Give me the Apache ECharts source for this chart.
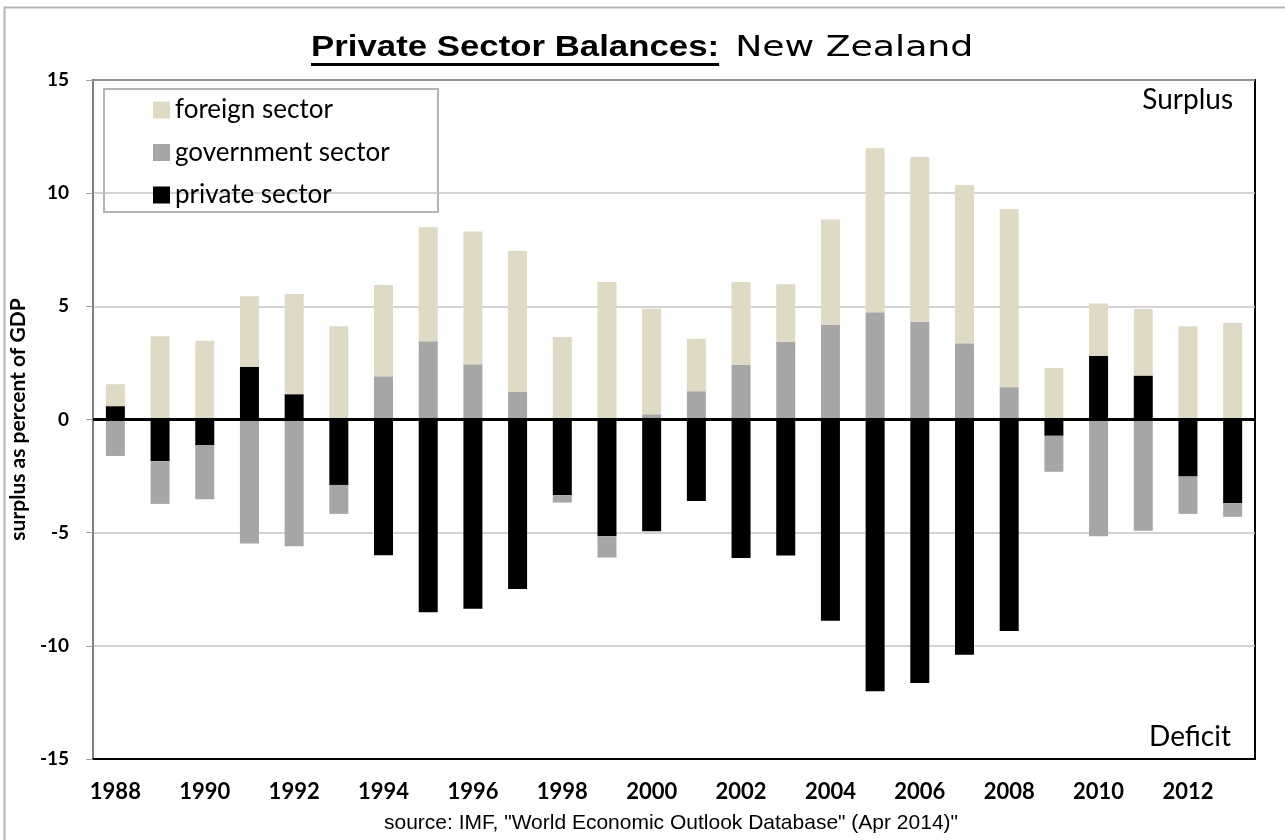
<!DOCTYPE html>
<html>
<head>
<meta charset="utf-8">
<script src="https://cdn.jsdelivr.net/npm/echarts@6/dist/echarts.min.js"></script>
<style>
  html, body { margin: 0; padding: 0; background: #fff; }
  #chart { width: 1285px; height: 840px; }
</style>
</head>
<body>
<div id="chart"></div>
<script>
// Sectoral balances for New Zealand, % of GDP
const years = ['1988','1989','1990','1991','1992','1993','1994','1995','1996','1997','1998','1999','2000',
               '2001','2002','2003','2004','2005','2006','2007','2008','2009','2010','2011','2012','2013'];
const privateSector = [0.59, -1.84, -1.14, 2.33, 1.12, -2.89, -6.00, -8.52, -8.36, -7.49, -3.35, -5.16, -4.94,
                       -3.60, -6.12, -6.01, -8.89, -12.01, -11.64, -10.39, -9.34, -0.72, 2.81, 1.94, -2.52, -3.70];
const governmentSector = [-1.61, -1.89, -2.38, -5.48, -5.60, -1.28, 1.91, 3.46, 2.44, 1.22, -0.32, -0.94, 0.23,
                          1.25, 2.41, 3.43, 4.17, 4.74, 4.32, 3.37, 1.43, -1.59, -5.16, -4.92, -1.65, -0.60];
const foreignSector = [0.97, 3.68, 3.48, 3.11, 4.43, 4.12, 4.03, 5.03, 5.87, 6.22, 3.64, 6.07, 4.66,
                       2.31, 3.67, 2.55, 4.67, 7.24, 7.28, 6.99, 7.87, 2.27, 2.32, 2.94, 4.12, 4.26];
const seriesNames = ['foreign sector', 'government sector', 'private sector'];

const chart = echarts.init(document.getElementById('chart'), null, { renderer: 'canvas' });

// Title pieces: bold underlined lead-in followed by the country name (both set wide)
const titleBold = 'Private Sector Balances:';
const titleRest = 'New Zealand';
const boldFont = 'bold 29px "Liberation Sans", Arial, sans-serif';
const restFont = 'normal 29px "DejaVu Sans", Verdana, sans-serif';
const boldStretch = 1.2;
const restStretch = 1.25;
const ctx = document.createElement('canvas').getContext('2d');
ctx.font = boldFont;
const boldWidth = ctx.measureText(titleBold).width * boldStretch;
const titleLeft = 311;
const titleGap = 16;
const titleMid = 48;

const barCommon = { type: 'bar', stack: 'balance', barWidth: 19 };
const labelFont = 'Lato, "Open Sans", sans-serif';

chart.setOption({
  animation: false,
  backgroundColor: '#ffffff',
  legend: {
    data: seriesNames,
    orient: 'vertical',
    left: 153,
    top: 97,
    padding: 0,
    itemWidth: 17,
    itemHeight: 17,
    itemGap: 16.5,
    icon: 'rect',
    selectedMode: false,
    textStyle: { fontFamily: labelFont, fontSize: 26, color: '#000', lineHeight: 25, padding: [0, 0, 0, 0] }
  },
  grid: {
    left: 90, right: 30, top: 80, bottom: 81,
    show: true, borderColor: '#000', borderWidth: 2, backgroundColor: 'transparent'
  },
  xAxis: {
    type: 'category',
    data: years,
    axisLine: { onZero: false, lineStyle: { color: '#000', width: 2 } },
    axisTick: { show: false },
    axisLabel: {
      interval: 1, margin: 22,
      fontFamily: labelFont, fontWeight: 'bold', fontSize: 22, color: '#000'
    }
  },
  yAxis: {
    type: 'value',
    min: -15, max: 15, interval: 5,
    name: 'surplus as percent of GDP',
    nameLocation: 'middle',
    nameRotate: 90,
    nameGap: 50,
    nameTextStyle: { fontFamily: labelFont, fontWeight: 'bold', fontSize: 21, color: '#000' },
    axisLine: { show: true, lineStyle: { color: '#808080', width: 2 } },
    axisTick: { show: true, length: 7, lineStyle: { color: '#a0a0a0', width: 1 } },
    splitLine: { lineStyle: { color: '#c4c4c4', width: 1.5 } },
    axisLabel: {
      margin: 24,
      fontFamily: labelFont, fontWeight: 'bold', fontSize: 19, color: '#000'
    }
  },
  series: [
    Object.assign({}, barCommon, {
      name: 'private sector', data: privateSector, itemStyle: { color: '#000000' },
      markLine: {
        silent: true, symbol: 'none', label: { show: false },
        lineStyle: { color: '#000', width: 3, type: 'solid' },
        data: [{ yAxis: 0 }], z: 10
      }
    }),
    Object.assign({}, barCommon, { name: 'government sector', data: governmentSector, itemStyle: { color: '#a6a6a6' } }),
    Object.assign({}, barCommon, { name: 'foreign sector', data: foreignSector, itemStyle: { color: '#dedac4' } })
  ],
  graphic: [
    { type: 'rect', silent: true, z: -1,
      shape: { x: 4.5, y: 7.5, width: 1300, height: 850 },
      style: { fill: 'none', stroke: '#b4b4b4', lineWidth: 2 } },
    { type: 'rect', silent: true,
      shape: { x: 104, y: 89, width: 334, height: 123 },
      style: { fill: '#fff', stroke: '#b4b4b4', lineWidth: 2 }, z: 0 },
    { type: 'text', silent: true, x: titleLeft, y: titleMid, scaleX: boldStretch,
      style: { text: titleBold, font: boldFont, fill: '#000', align: 'left', verticalAlign: 'middle' } },
    { type: 'text', silent: true, x: titleLeft + boldWidth + titleGap, y: titleMid, scaleX: restStretch,
      style: { text: titleRest, font: restFont, fill: '#000', align: 'left', verticalAlign: 'middle' } },
    { type: 'line', silent: true,
      shape: { x1: titleLeft, y1: 64.5, x2: titleLeft + boldWidth, y2: 64.5 },
      style: { stroke: '#000', lineWidth: 3 } },
    { type: 'text', silent: true, x: 1233, y: 100,
      style: { text: 'Surplus', fontFamily: labelFont, fontSize: 28, fill: '#000', align: 'right', verticalAlign: 'middle' } },
    { type: 'text', silent: true, x: 1231, y: 737,
      style: { text: 'Deficit', fontFamily: labelFont, fontSize: 28, fill: '#000', align: 'right', verticalAlign: 'middle' } },
    { type: 'text', silent: true, x: 671, y: 823,
      style: { text: 'source: IMF, "World Economic Outlook Database" (Apr 2014)"',
               fontFamily: '"Liberation Sans", Arial, sans-serif', fontSize: 21, fill: '#000',
               align: 'center', verticalAlign: 'middle' } }
  ]
});
</script>
</body>
</html>
